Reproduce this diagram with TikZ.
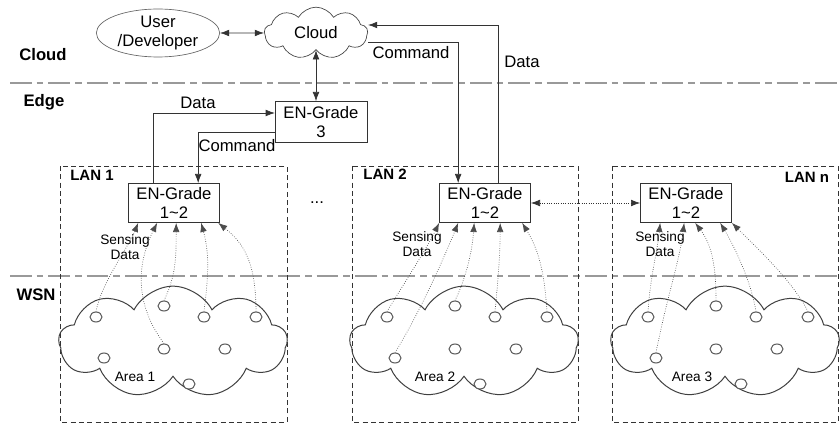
\documentclass[tikz,border=0pt]{standalone}
\usepackage{fontspec}
\setmainfont{Liberation Sans}
\usetikzlibrary{shapes.geometric,shapes.symbols,arrows.meta}
\tikzset{
  layerline/.style={gray!80,line width=1pt,dash pattern=on 13pt off 3pt on 4pt off 3pt},
  layer/.style={font=\fontsize{10}{12}\selectfont\bfseries},
  lanbox/.style={draw=black!80,thin,dash pattern=on 3pt off 2pt},
  lan/.style={font=\fontsize{9}{11}\selectfont\bfseries},
  small/.style={font=\fontsize{8.2}{9}\selectfont,align=center},
  enbox/.style={draw=black!80,thin,fill=white,align=center,minimum width=54.6pt,minimum height=23.4pt,inner sep=1pt},
  link/.style={draw=black!80,thin,->},
  sense/.style={draw=black!70,thin,densely dotted,->},
  sensor/.style={draw=black!65,fill=white,line width=0.6pt,ellipse,inner sep=0pt,minimum width=7.2pt,minimum height=6pt},
  area/.style={draw=black!75,line width=0.6pt,cloud,cloud puffs=9,cloud puff arc=125,aspect=2.1,minimum width=137pt,minimum height=67pt}
}

\begin{document}
\begin{tikzpicture}[x=0.6pt,y=-0.6pt,>={Latex[length=5.5pt,width=4pt]},font=\fontsize{10}{11.4}\selectfont]
  \useasboundingbox (0,0) rectangle (840,424);

  % layers
  \draw [layerline] (10,83) -- (840,83);
  \draw [layerline] (10,276) -- (840,276);
  \node [layer] (tcloud) at (43,55) {Cloud};
  \node [layer] (tedge) at (44,102) {Edge};
  \node [layer] (twsn) at (36,295) {WSN};

  % LANs
  \draw [lanbox] (60,166) rectangle (287,422);
  \draw [lanbox] (352,166) rectangle (578,422);
  \draw [lanbox] (612,166) rectangle (838,422);
  \node [lan] (lan1) at (92,175) {LAN 1};
  \node [lan] (lan2) at (385,174) {LAN 2};
  \node [lan] (lann) at (807,177) {LAN n};
  \node (dots) at (317,203) {...};

  % cloud layer
  \node [draw=black!60,fill=white,ellipse,align=center,minimum width=74pt,minimum height=22pt,inner sep=0pt] (user) at (158,33) {User\\/Developer};
  \node [draw=black!75,cloud,cloud puffs=9,cloud puff arc=120,aspect=2,minimum width=62pt,minimum height=31pt] (cloud) at (316,33) {Cloud};
  \draw [link,<->] (user) -- (cloud);

  % edge nodes
  \node [enbox,minimum width=55pt,minimum height=24.6pt] (en3) at (321,122) {EN-Grade\\3};
  \node [enbox] (en1) at (174,203) {EN-Grade\\1\textasciitilde 2};
  \node [enbox] (en2) at (485,203) {EN-Grade\\1\textasciitilde 2};
  \node [enbox] (enn) at (686,203) {EN-Grade\\1\textasciitilde 2};

  \draw [link,<->] (cloud.south) -- (cloud.south |- en3.north);
  \draw [link] ([xshift=15pt]en1.north west) |- ([yshift=5.4pt]en3.west);
  \draw [link] ([yshift=-6pt]en3.west) -| ([xshift=42pt]en1.north west);
  \node (data1) at (198,103) {Data};
  \node (cmd1) at (237,146) {Command};

  \draw [link] ([yshift=-5.4pt]cloud.east) -| ([xshift=11.4pt]en2.north west);
  \draw [link] ([xshift=35.4pt]en2.north west) |- ([yshift=4.8pt]cloud.east);
  \node (cmd2) at (411,53) {Command};
  \node (data2) at (522,62) {Data};

  \draw [link,<->,densely dotted] (en2) -- (enn);

  % WSN areas
  \foreach \k/\cx/\ax in {1/173/-38, 2/464/-29, 3/725/-33} {
    \begin{scope}[shift={(\cx,342)}]
      \node [area] (area\k) at (0,0) {};
      \node [small] (name\k) at (\ax,35) {Area \k};
      \foreach \i/\sx/\sy in {1/-77/-25, 2/-9/-36, 3/31/-25, 4/83/-25, 5/-9/7, 6/52/7, 7/-69/16, 8/16/42}
        \node [sensor] (s\k-\i) at (\sx,\sy) {};
    \end{scope}
  }

  % sensing data
  \node [small] (sd1) at (125,247) {Sensing\\Data};
  \node [small] (sd2) at (417,244) {Sensing\\Data};
  \node [small] (sdn) at (660,244) {Sensing\\Data};

  \draw [sense] (s1-1.north) .. controls +(6,-30) and +(-10,25) .. ([xshift=6pt]en1.south west);
  \draw [sense] (s1-5.north) .. controls +(-30,-40) and +(-20,40) .. ([xshift=17.4pt]en1.south west);
  \draw [sense] (s1-2.north) .. controls +(12,-25) and +(0,35) .. ([xshift=28.8pt]en1.south west);
  \draw [sense] (s1-3.north) .. controls +(5,-40) and +(8,30) .. ([xshift=43.8pt]en1.south west);
  \draw [sense] (s1-4.north) .. controls +(0,-50) and +(25,20) .. ([xshift=54pt]en1.south west);

  \draw [sense] (s2-1.north) .. controls +(12,-20) and +(-12,25) .. (en2.south west);
  \draw [sense] (s2-7.north) .. controls +(25,-40) and +(-12,30) .. ([xshift=11.4pt]en2.south west);
  \draw [sense] (s2-2.north) .. controls +(10,-20) and +(-2,30) .. ([xshift=21pt]en2.south west);
  \draw [sense] (s2-3.north) .. controls +(3,-30) and +(0,30) .. ([xshift=36.6pt]en2.south west);
  \draw [sense] (s2-4.north) .. controls +(-3,-45) and +(15,25) .. ([xshift=49.8pt]en2.south west);

  \draw [sense] (s3-1.north) .. controls +(3,-40) and +(-3,30) .. ([xshift=12pt]enn.south west);
  \draw [sense] (s3-7.north) .. controls +(12,-60) and +(-5,40) .. ([xshift=26.4pt]enn.south west);
  \draw [sense] (s3-2.north) .. controls +(0,-40) and +(15,20) .. ([xshift=33pt]enn.south west);
  \draw [sense] (s3-3.north) .. controls +(-5,-30) and +(15,25) .. ([xshift=48pt]enn.south west);
  \draw [sense] (s3-4.north) .. controls +(-15,-30) and +(25,25) .. (enn.south east);
\end{tikzpicture}
\end{document}
